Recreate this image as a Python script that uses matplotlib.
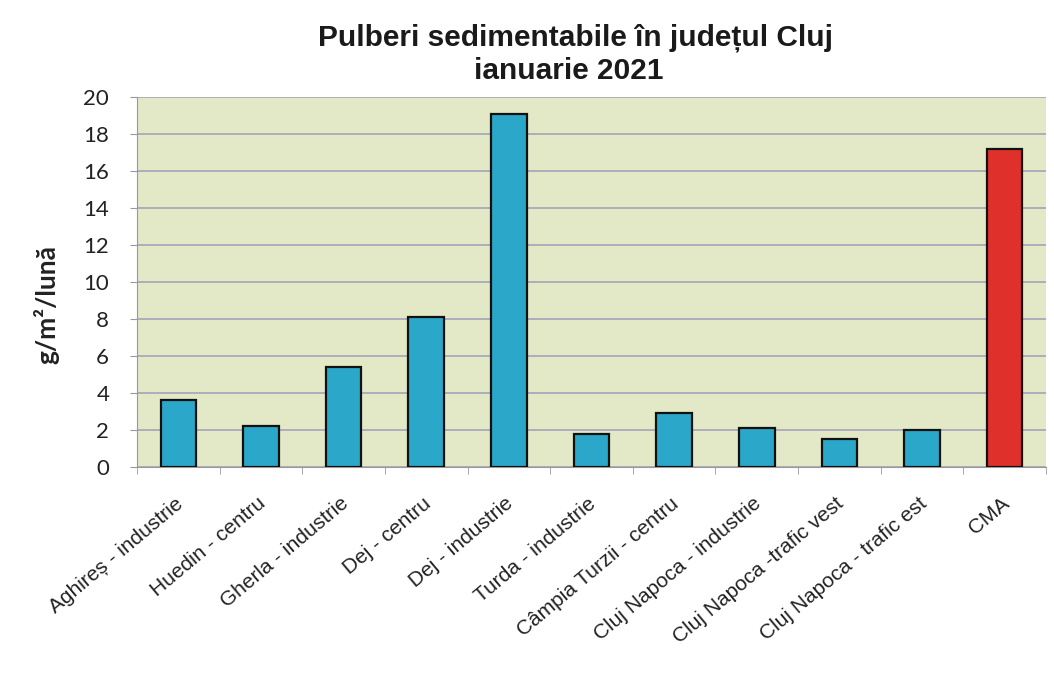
import matplotlib
matplotlib.use("Agg")
import matplotlib.pyplot as plt
import matplotlib.transforms as mtransforms
import numpy as np

categories = ["Aghireș - industrie", "Huedin - centru", "Gherla - industrie", "Dej - centru",
              "Dej - industrie", "Turda - industrie", "Câmpia Turzii - centru",
              "Cluj Napoca - industrie", "Cluj Napoca -trafic vest", "Cluj Napoca - trafic est", "CMA"]
values = [3.6, 2.2, 5.4, 8.1, 19.1, 1.8, 2.9, 2.1, 1.5, 2.0, 17.2]
bar_colors = ["#2ba7c9"] * 10 + ["#e0302c"]
yticks = [0, 2, 4, 6, 8, 10, 12, 14, 16, 18, 20]

fig = plt.figure(figsize=(10.54, 6.77), dpi=100)
fig.patch.set_facecolor("white")
ax = fig.add_axes([137 / 1054, 1 - 467 / 677, (1046 - 137) / 1054, (467 - 97) / 677])
ax.set_facecolor("#e3e8c6")

x = np.arange(len(categories))
ax.bar(x, values, width=0.43, color=bar_colors, edgecolor="#111111", linewidth=1.6, zorder=3)

ax.set_xlim(-0.5, len(categories) - 0.5)
ax.set_ylim(0, 20)
ax.set_yticks(yticks)
ax.set_yticklabels([str(v) for v in yticks], fontsize=16, family="Lato", color="#222222")
ax.yaxis.grid(True, color="#a9a9b9", linewidth=1.3, zorder=1)
ax.set_xticks(x)
ax.set_xticklabels([])
ax.set_xticks(np.arange(-0.5, len(categories), 1), minor=True)
ax.tick_params(axis="x", which="major", length=0)
ax.tick_params(axis="x", which="minor", length=5, color="#999999", direction="out")
ax.tick_params(axis="y", length=5, color="#999999", pad=15)
for s in ["top", "right"]:
    ax.spines[s].set_visible(False)
for s in ["left", "bottom"]:
    ax.spines[s].set_color("#999999")

trans = mtransforms.blended_transform_factory(ax.transData, ax.transAxes) + \
    mtransforms.ScaledTranslation(-4 / 100, -27 / 100, fig.dpi_scale_trans)
for xi, lab in zip(x, categories):
    ax.text(xi, 0, lab, transform=trans, rotation=40, ha="right", va="top",
            rotation_mode="anchor", fontsize=15, family="Liberation Sans", color="#222222",
            clip_on=False)

ax.set_ylabel("g/m²/lună", fontsize=19, family="Lato", fontweight="bold", color="#222222")
ax.yaxis.set_label_coords((59 - 137) / (1046 - 137), (467 - 305) / (467 - 97))

fig.text(576 / 1054, 1 - 38 / 677, "Pulberi sedimentabile în județul Cluj", ha="center", va="center",
         fontsize=21.5, family="Liberation Sans", fontweight="bold", color="#1a1a1a")
fig.text(569 / 1054, 1 - 71 / 677, "ianuarie 2021", ha="center", va="center",
         fontsize=21.5, family="Liberation Sans", fontweight="bold", color="#1a1a1a")

fig.savefig("out.png", dpi=100)
